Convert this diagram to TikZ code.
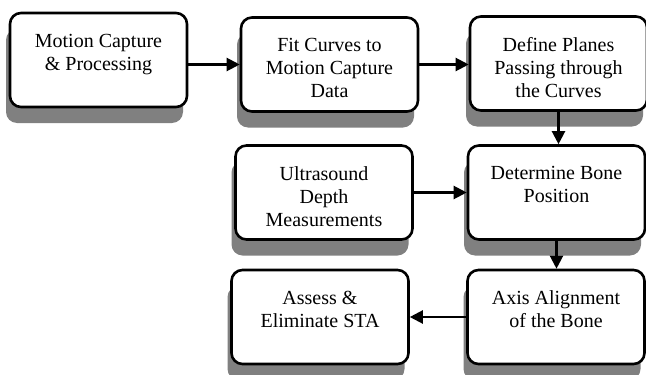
\documentclass[tikz,border=0pt]{standalone}
\usepackage{fontspec}
\setmainfont{Liberation Serif}
\usetikzlibrary{arrows.meta}
\usetikzlibrary{shadows}

\tikzset{
	stepbox/.style={draw, line width=2.6pt, rounded corners=11pt, fill=white,
		minimum width=177pt, minimum height=94pt, inner sep=0pt,
		general shadow={fill=gray, shadow xshift=-4pt, shadow yshift=-16pt},
		font=\fontsize{20}{23}\selectfont},
	arr/.style={line width=2.2pt, -{Triangle[length=13pt,width=13pt]}}
}
\newcommand{\boxtext}[1]{\parbox[c][52pt][t]{170pt}{\centering #1}}

\begin{document}
\begin{tikzpicture}[x=1pt,y=-1pt]
	\useasboundingbox (0,0) rectangle (646,375);

	% boxes
	\node[stepbox] (capture) at (98.5,60) {\boxtext{Motion Capture\\ \& Processing}};
	\node[stepbox] (fit) at (329.5,64.5) {\boxtext{Fit Curves to\\ Motion Capture\\ Data}};
	\node[stepbox] (planes) at (558.5,63.5) {\boxtext{Define Planes\\ Passing through\\ the Curves}};
	\node[stepbox] (depth) at (324,192.5) {\boxtext{Ultrasound\\ Depth\\ Measurements}};
	\node[stepbox] (bone) at (556.5,192.5) {\boxtext{Determine Bone\\ Position}};
	\node[stepbox] (assess) at (320,317) {\boxtext{Assess \&\\ Eliminate STA}};
	\node[stepbox] (axis) at (556,317) {\boxtext{Axis Alignment\\ of the Bone}};

	% arrows
	\draw[arr] (capture.east |- fit) -- (fit.west);
	\draw[arr] (fit.east) -- (planes.west |- fit.east);
	\draw[arr] (planes.south) -- (bone.north -| planes.south);
	\draw[arr] (depth.east) -- (bone.west);
	\draw[arr] (bone.south) -- (axis.north -| bone.south);
	\draw[arr] (axis.west) -- (assess.east);

\end{tikzpicture}
\end{document}
